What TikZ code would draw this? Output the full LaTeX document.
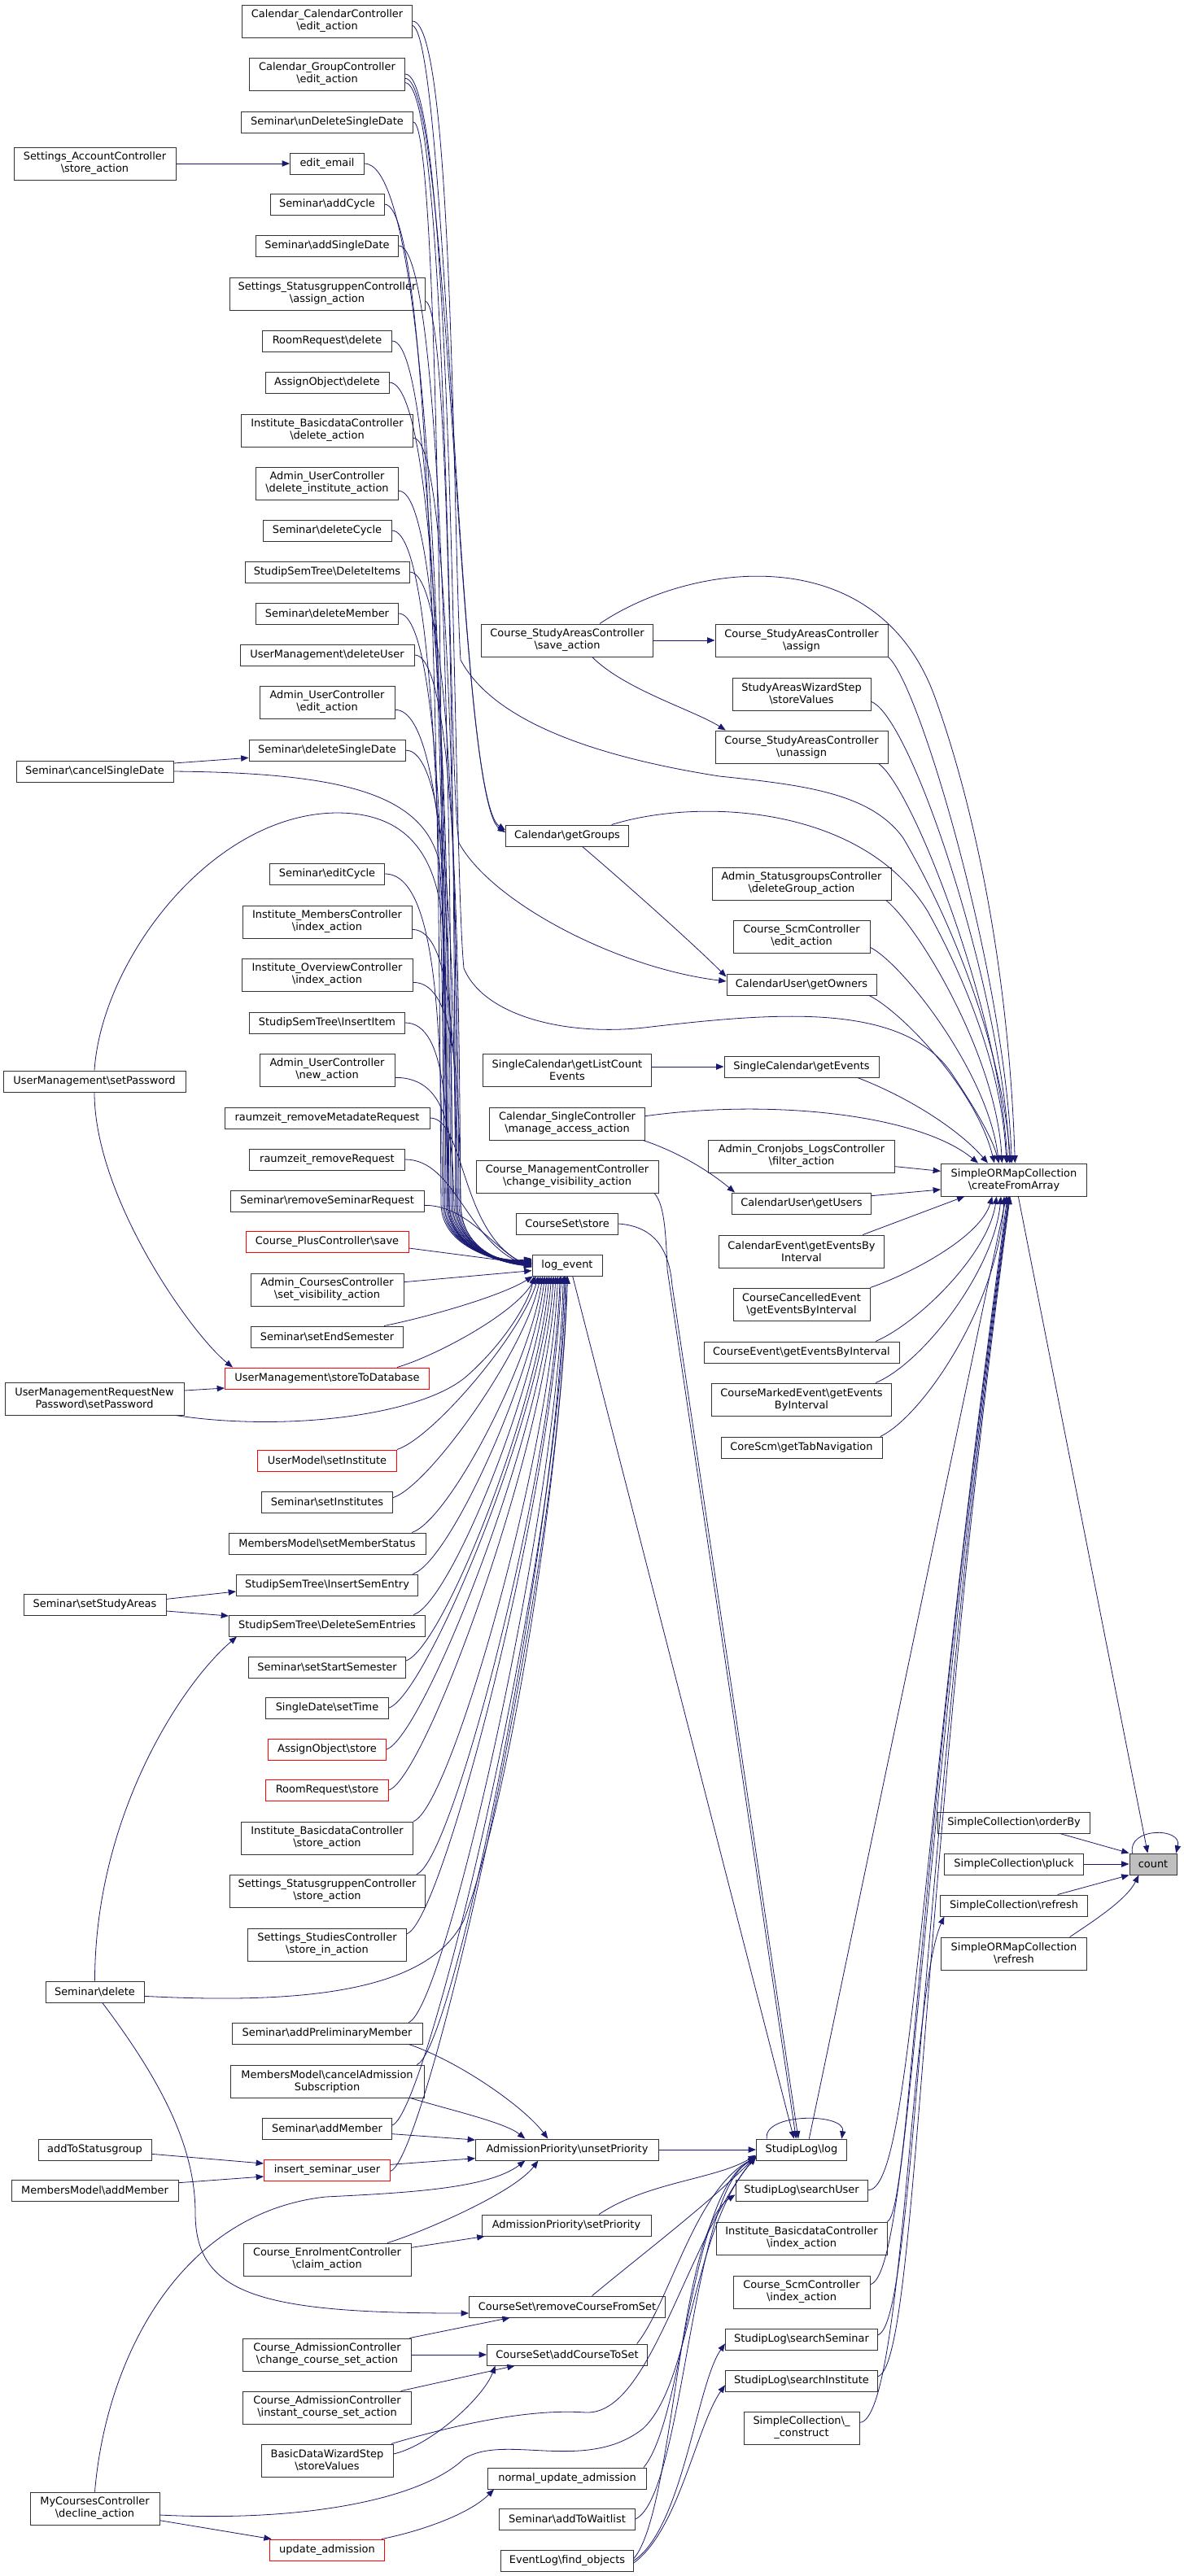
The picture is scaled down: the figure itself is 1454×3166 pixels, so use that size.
\documentclass[tikz,border=0pt]{standalone}
\usepackage{fontspec}
\setmainfont{DejaVu Sans}
\usetikzlibrary{arrows.meta}
\definecolor{mblue}{HTML}{191970}
\definecolor{bord}{HTML}{333333}
\definecolor{cgray}{HTML}{BFBFBF}
\newcommand\bs{\textbackslash}
\newcommand\nodefont{\fontsize{9.7pt}{11.25pt}\selectfont}
\newcommand\bx[6][bx]{\node[#1,minimum width={#5*0.75pt}] (#2) at (#3,#4) {#6};}
% channel edge into log_event: #1 start, #2 channel x, #3 start y, #4 lower control y, #5 end yshift
\newcommand\chan[5]{\draw[ed] (#1) .. controls (#2,#3) and (#2,#4) .. ({#2+2},1480) .. controls ({#2+3},1535) and (615,1552) .. ([yshift=#5]lev.west);}
\tikzset{
  bx/.style={draw=bord, line width=0.75pt, fill=white, font=\nodefont, inner xsep=3pt, inner ysep=1pt, minimum height=19.5pt, align=center},
  bx2/.style={bx, minimum height=30pt},
  bxr/.style={bx, draw=red},
  cnt/.style={bx, fill=cgray},
  ed/.style={draw=mblue, line width=0.6pt, -{Triangle[length=7pt,width=5.5pt]}},
}
\begin{document}
\begin{tikzpicture}[x=0.75pt,y=-0.75pt]
\useasboundingbox (0,0) rectangle (1454,3166);
% ---------- left column
\bx[bx2]{L1}{116.5}{201}{199}{Settings\_AccountController\\\bs store\_action}
\bx{L2}{116.5}{948}{193}{Seminar\bs cancelSingleDate}
\bx{L3}{116}{1329}{224}{UserManagement\bs setPassword}
\bx[bx2]{L4}{116}{1719}{220}{UserManagementRequestNew\\Password\bs setPassword}
\bx{L5}{116.5}{1972}{175}{Seminar\bs setStudyAreas}
\bx{L6}{116.5}{2448}{121}{Seminar\bs delete}
\bx{L7}{116.5}{2642}{139}{addToStatusgroup}
\bx{L8}{116.5}{2692}{205}{MembersModel\bs addMember}
\bx[bx2]{L9}{116.5}{3083}{159}{MyCoursesController\\\bs decline\_action}
% ---------- column 2
\bx[bx2]{c1}{402}{26}{209}{Calendar\_CalendarController\\\bs edit\_action}
\bx[bx2]{c2}{402}{91}{191}{Calendar\_GroupController\\\bs edit\_action}
\bx{c3}{402}{150}{211}{Seminar\bs unDeleteSingleDate}
\bx{c4}{402}{201}{91}{edit\_email}
\bx{c5}{402}{251}{140}{Seminar\bs addCycle}
\bx{c6}{402}{302}{175}{Seminar\bs addSingleDate}
\bx[bx2]{c7}{402}{361}{240}{Settings\_StatusgruppenController\\\bs assign\_action}
\bx{c8}{402}{419}{159}{RoomRequest\bs delete}
\bx{c9}{402}{470}{152}{AssignObject\bs delete}
\bx[bx2]{c10}{402}{529}{211}{Institute\_BasicdataController\\\bs delete\_action}
\bx[bx2]{c11}{402}{594}{175}{Admin\_UserController\\\bs delete\_institute\_action}
\bx{c12}{402}{652}{158}{Seminar\bs deleteCycle}
\bx{c13}{402}{703}{202}{StudipSemTree\bs DeleteItems}
\bx{c14}{402}{754}{175}{Seminar\bs deleteMember}
\bx{c15}{402}{805}{214}{UserManagement\bs deleteUser}
\bx[bx2]{c16}{402}{863}{166}{Admin\_UserController\\\bs edit\_action}
\bx{c17}{402}{922}{192}{Seminar\bs deleteSingleDate}
\bx{c18}{402}{1074}{141}{Seminar\bs editCycle}
\bx[bx2]{c19}{402}{1133}{208}{Institute\_MembersController\\\bs index\_action}
\bx[bx2]{c20}{402}{1198}{210}{Institute\_OverviewController\\\bs index\_action}
\bx{c21}{402}{1257}{191}{StudipSemTree\bs InsertItem}
\bx[bx2]{c22}{402}{1315}{166}{Admin\_UserController\\\bs new\_action}
\bx{c23}{402}{1374}{252}{raumzeit\_removeMetadateRequest}
\bx{c24}{402}{1425}{191}{raumzeit\_removeRequest}
\bx{c25}{402}{1476}{238}{Seminar\bs removeSeminarRequest}
\bx[bxr]{c26}{402}{1526}{200}{Course\_PlusController\bs save}
\bx[bx2]{c27}{402}{1585}{188}{Admin\_CoursesController\\\bs set\_visibility\_action}
\bx{c28}{402}{1643}{187}{Seminar\bs setEndSemester}
\bx[bxr]{c29}{402}{1694}{251}{UserManagement\bs storeToDatabase}
\bx[bxr]{c30}{402}{1795}{171}{UserModel\bs setInstitute}
\bx{c31}{402}{1846}{161}{Seminar\bs setInstitutes}
\bx{c32}{402}{1897}{242}{MembersModel\bs setMemberStatus}
\bx{c33}{402}{1948}{223}{StudipSemTree\bs InsertSemEntry}
\bx{c34}{402}{1998}{241}{StudipSemTree\bs DeleteSemEntries}
\bx{c35}{402}{2049}{193}{Seminar\bs setStartSemester}
\bx{c36}{402}{2099}{151}{SingleDate\bs setTime}
\bx[bxr]{c37}{402}{2150}{145}{AssignObject\bs store}
\bx[bxr]{c38}{402}{2200}{151}{RoomRequest\bs store}
\bx[bx2]{c39}{402}{2259}{211}{Institute\_BasicdataController\\\bs store\_action}
\bx[bx2]{c40}{402}{2324}{240}{Settings\_StatusgruppenController\\\bs store\_action}
\bx[bx2]{c41}{402}{2390}{195}{Settings\_StudiesController\\\bs store\_in\_action}
\bx{c42}{402}{2499}{234}{Seminar\bs addPreliminaryMember}
\bx[bx2]{c43}{402}{2558}{238}{MembersModel\bs cancelAdmission\\Subscription}
\bx{c44}{402}{2616}{159}{Seminar\bs addMember}
\bx[bxr]{c45}{402}{2667}{155}{insert\_seminar\_user}
\bx[bx2]{c46}{402}{2777}{206}{Course\_EnrolmentController\\\bs claim\_action}
\bx[bx2]{c47}{402}{2894}{207}{Course\_AdmissionController\\\bs change\_course\_set\_action}
\bx[bx2]{c48}{402}{2959}{207}{Course\_AdmissionController\\\bs instant\_course\_set\_action}
\bx[bx2]{c49}{402}{3024}{162}{BasicDataWizardStep\\\bs storeValues}
\bx[bxr]{c50}{402}{3134}{141}{update\_admission}
% ---------- column 3
\bx[bx2]{d1}{697}{787}{211}{Course\_StudyAreasController\\\bs save\_action}
\bx{d2}{697}{1027}{151}{Calendar\bs getGroups}
\bx[bx2]{d3}{697}{1315}{207}{SingleCalendar\bs getListCount\\Events}
\bx[bx2]{d4}{697}{1381}{191}{Calendar\_SingleController\\\bs manage\_access\_action}
\bx[bx2]{d5}{697}{1446}{224}{Course\_ManagementController\\\bs change\_visibility\_action}
\bx{d6}{697}{1504}{125}{CourseSet\bs store}
\bx{lev}{697}{1555}{86}{log\_event}
\bx{d8}{697}{2642}{225}{AdmissionPriority\bs unsetPriority}
\bx{d9}{696}{2735}{208}{AdmissionPriority\bs setPriority}
\bx{d10}{697}{2835}{241}{CourseSet\bs removeCourseFromSet}
\bx{d11}{697}{2894}{197}{CourseSet\bs addCourseToSet}
\bx{d12}{697}{3046}{195}{normal\_update\_admission}
\bx{d13}{697}{3096}{167}{Seminar\bs addToWaitlist}
\bx{d14}{697}{3147}{163}{EventLog\bs find\_objects}
% ---------- column 4
\bx[bx2]{e1}{985}{787}{212}{Course\_StudyAreasController\\\bs assign}
\bx[bx2]{e2}{985}{853}{170}{StudyAreasWizardStep\\\bs storeValues}
\bx[bx2]{e3}{985}{918}{212}{Course\_StudyAreasController\\\bs unassign}
\bx[bx2]{e4}{985}{1086}{220}{Admin\_StatusgroupsController\\\bs deleteGroup\_action}
\bx[bx2]{e5}{985}{1151}{168}{Course\_ScmController\\\bs edit\_action}
\bx{e6}{985}{1210}{184}{CalendarUser\bs getOwners}
\bx{e7}{985}{1311}{190}{SingleCalendar\bs getEvents}
\bx[bx2]{e8}{985}{1421}{229}{Admin\_Cronjobs\_LogsController\\\bs filter\_action}
\bx{e9}{985}{1479}{171}{CalendarUser\bs getUsers}
\bx[bx2]{e10}{985}{1538}{203}{CalendarEvent\bs getEventsBy\\Interval}
\bx[bx2]{e11}{985}{1603}{168}{CourseCancelledEvent\\\bs getEventsByInterval}
\bx{e12}{985}{1662}{240}{CourseEvent\bs getEventsByInterval}
\bx[bx2]{e13}{985}{1720}{221}{CourseMarkedEvent\bs getEvents\\ByInterval}
\bx{e14}{985}{1779}{198}{CoreScm\bs getTabNavigation}
\bx{e15}{985}{2642}{111}{StudipLog\bs log}
\bx{e16}{985}{2692}{162}{StudipLog\bs searchUser}
\bx[bx2]{e17}{985}{2751}{210}{Institute\_BasicdataController\\\bs index\_action}
\bx[bx2]{e18}{985}{2817}{168}{Course\_ScmController\\\bs index\_action}
\bx{e19}{985}{2875}{187}{StudipLog\bs searchSeminar}
\bx{e20}{985}{2926}{187}{StudipLog\bs searchInstitute}
\bx[bx2]{e21}{985}{2984}{142}{SimpleCollection\bs\_\\\_construct}
% ---------- column 5
\bx[bx2]{f1}{1246}{1450}{179}{SimpleORMapCollection\\\bs createFromArray}
\bx{f2}{1246}{2240}{187}{SimpleCollection\bs orderBy}
\bx{f3}{1246}{2291}{171}{SimpleCollection\bs pluck}
\bx{f4}{1246}{2342}{181}{SimpleCollection\bs refresh}
\bx[bx2]{f5}{1246}{2401}{179}{SimpleORMapCollection\\\bs refresh}
\bx[cnt]{cnt}{1417}{2291}{58}{count}

% ================= edges =================
% left column
\draw[ed] (L1.east) -- (c4.west);
\draw[ed] ([yshift=7.5pt]L2.east) -- ([yshift=-7pt]c17.west);
\draw[ed] (L2.east) .. controls (420,950) and (520,975) .. (540,1060) .. controls (548,1150) and (548,1400) .. (550,1480) .. controls (551,1535) and (615,1552) .. ([yshift=2pt]lev.west);
\draw[ed] (L3.south) .. controls +(0,130) and +(-50,-40) .. ([xshift=7.5pt]c29.north west);
\draw[ed] (L3.north) .. controls (125,1180) and (260,1000) .. (414,999) .. controls (500,999) and (540,1050) .. (545,1150) .. controls (548,1300) and (550,1420) .. (552,1480) .. controls (553,1535) and (615,1552) .. ([yshift=-1pt]lev.west);
\draw[ed] ([yshift=7.5pt]L4.east) -- ([yshift=-9pt]c29.west);
\draw[ed] ([xshift=-8pt]L4.south east) .. controls (350,1760) and (520,1740) .. (575,1690) .. controls (620,1650) and (650,1600) .. ([xshift=2pt]lev.south west);
\draw[ed] ([yshift=5pt]L5.east) -- ([yshift=-6pt]c33.west);
\draw[ed] ([yshift=-6pt]L5.east) -- ([yshift=9pt]c34.west);
\draw[ed] (L6.north) .. controls +(0,-200) and +(-70,60) .. ([xshift=7.5pt]c34.south west);
\draw[ed] ([yshift=-4pt]L6.east) .. controls (400,2465) and (530,2440) .. (570,2360) .. controls (630,2200) and (690,1800) .. ([xshift=33pt]lev.south west);
\draw[ed] ([xshift=7pt]L6.south) .. controls (200,2560) and (240,2640) .. (240,2720) .. controls (240,2820) and (320,2843) .. ([yshift=-6pt]d10.west);
\draw[ed] ([yshift=-4pt]L7.east) -- ([yshift=6pt]c45.west);
\draw[ed] ([yshift=7pt]L8.east) -- ([yshift=-6pt]c45.west);
\draw[ed] ([yshift=-11pt]L9.east) -- ([xshift=2pt]c50.north west);
\draw[ed] (L9.north) .. controls (130,2900) and (220,2720) .. (400,2700) .. controls (500,2695) and (600,2690) .. ([xshift=46pt]d8.south west);
\draw[ed] ([yshift=-6pt]L9.east) .. controls (380,3100) and (520,3070) .. (570,3022) .. controls (620,2990) and (720,3040) .. (790,2985) .. controls (850,2930) and (850,2740) .. ([yshift=-7pt]e15.west);

% column 2 -> log_event (upper, through the channel)
\chan{c3.east}{544}{150}{1250}{6pt}
\chan{c4.east}{548}{201}{1250}{5.5pt}
\chan{c5.east}{540}{251}{1250}{5pt}
\chan{c6.east}{554}{302}{1250}{4.5pt}
\chan{[yshift=-7pt]c7.east}{558}{370}{1250}{4pt}
\chan{c8.east}{546}{419}{1250}{4pt}
\chan{c9.east}{550}{470}{1250}{3.5pt}
\chan{[yshift=-7pt]c10.east}{560}{538}{1250}{3pt}
\chan{[yshift=-7pt]c11.east}{552}{603}{1250}{3pt}
\chan{c12.east}{544}{652}{1250}{2.5pt}
\chan{c13.east}{562}{703}{1250}{2pt}
\chan{c14.east}{548}{754}{1250}{2pt}
\chan{c15.east}{564}{805}{1250}{1.5pt}
\chan{[yshift=-7pt]c16.east}{554}{872}{1250}{1pt}
\chan{c17.east}{558}{922}{1250}{1pt}
\chan{c18.east}{542}{1074}{1300}{0.5pt}
\chan{[yshift=-7pt]c19.east}{560}{1142}{1320}{0pt}
\chan{[yshift=-7pt]c20.east}{564}{1207}{1350}{0pt}
\chan{c21.east}{550}{1257}{1380}{-0.5pt}
\chan{[yshift=-7pt]c22.east}{556}{1324}{1410}{-1pt}
\draw[ed] (c23.east) .. controls (572,1374) and (565,1520) .. ([yshift=-1pt]lev.west);
\draw[ed] (c24.east) .. controls (560,1425) and (575,1530) .. ([yshift=-1.5pt]lev.west);
\draw[ed] ([yshift=-4pt]c25.east) .. controls (575,1481) and +(-45,-20) .. ([yshift=-2pt]lev.west);
\draw[ed] ([yshift=-6pt]c26.east) -- ([yshift=1pt]lev.west);
\draw[ed] ([yshift=7pt]c27.east) -- ([yshift=-5pt]lev.west);
% column 2 -> log_event (lower)
\draw[ed] ([xshift=-18pt]c28.north east) .. controls +(50,-10) and +(-40,25) .. ([xshift=1pt]lev.south west);
\draw[ed] ([xshift=-30pt]c29.north east) .. controls +(50,-15) and +(-25,45) .. ([xshift=4pt]lev.south west);
\draw[ed] (c30.north east) .. controls +(45,-15) and +(-20,70) .. ([xshift=6pt]lev.south west);
\draw[ed] ([yshift=4pt]c31.east) .. controls +(45,-15) and +(-18,90) .. ([xshift=8pt]lev.south west);
\draw[ed] ([xshift=-13pt]c32.north east) .. controls +(45,-15) and +(-16,110) .. ([xshift=10pt]lev.south west);
\draw[ed] ([xshift=-5pt]c33.north east) .. controls +(45,-15) and +(-15,125) .. ([xshift=12pt]lev.south west);
\draw[ed] ([xshift=-11pt]c34.north east) .. controls +(45,-15) and +(-14,140) .. ([xshift=14pt]lev.south west);
\draw[ed] ([yshift=6pt]c35.east) .. controls +(45,-15) and +(-13,160) .. ([xshift=16pt]lev.south west);
\draw[ed] (c36.east) .. controls +(45,-15) and +(-12,175) .. ([xshift=18pt]lev.south west);
\draw[ed] (c37.east) .. controls +(45,-15) and +(-11,190) .. ([xshift=20pt]lev.south west);
\draw[ed] (c38.east) .. controls +(45,-15) and +(-10,205) .. ([xshift=22pt]lev.south west);
\draw[ed] (c39.north east) .. controls +(45,-15) and +(-9,220) .. ([xshift=24pt]lev.south west);
\draw[ed] ([xshift=-8pt]c40.north east) .. controls +(45,-15) and +(-8,235) .. ([xshift=26pt]lev.south west);
\draw[ed] ([yshift=10pt]c41.east) .. controls +(45,-15) and +(-7,250) .. ([xshift=27pt]lev.south west);
\draw[ed] ([xshift=-13pt]c42.north east) .. controls +(45,-15) and +(-6,280) .. ([xshift=29pt]lev.south west);
\draw[ed] ([xshift=-7pt]c43.north east) .. controls +(45,-15) and +(-5,300) .. ([xshift=30pt]lev.south west);
\draw[ed] ([yshift=3pt]c44.east) .. controls +(45,-15) and +(-4,320) .. ([xshift=31pt]lev.south west);
\draw[ed] ([yshift=-1pt]c45.east) .. controls +(45,-15) and +(-3,340) .. ([xshift=32pt]lev.south west);
% calendar controllers
\draw[ed] ([yshift=-4pt]c1.east) .. controls (550,47) and +(-60,-40) .. ([yshift=3pt]d2.west);
\draw[ed] ([yshift=-4pt]c2.east) .. controls (554,96) and +(-60,-40) .. ([yshift=5pt]d2.west);
\draw[ed] (c1.east) .. controls (558,26) and (556,650) .. (566,811) .. controls (600,875) and (700,925) .. (884,954) .. controls (990,965) and (1070,975) .. (1110,1030) .. controls (1180,1150) and (1232,1300) .. ([xshift=-3pt]f1.north);
\draw[ed] (c2.east) .. controls (560,91) and (556,1050) .. (570,1190) .. controls (595,1250) and (700,1275) .. (800,1262) .. controls (950,1245) and (1110,1230) .. (1170,1320) .. controls (1200,1365) and (1220,1400) .. ([xshift=-14pt]f1.north);
\draw[ed] ([yshift=-8pt]c2.east) .. controls (552,102) and (550,950) .. (564,1036) .. controls (605,1110) and (760,1190) .. ([yshift=3pt]e6.west);
% column 2 lower -> column 3
\draw[ed] ([xshift=-13pt]c42.south east) .. controls +(60,20) and +(-30,-40) .. ([xshift=67pt]d8.north west);
\draw[ed] ([xshift=-13pt]c43.south east) .. controls +(50,15) and +(-25,-20) .. ([xshift=46pt]d8.north west);
\draw[ed] ([yshift=-5pt]c44.east) -- ([yshift=9pt]d8.west);
\draw[ed] ([yshift=5pt]c45.east) -- ([yshift=-8pt]d8.west);
\draw[ed] ([yshift=11pt]c46.east) -- ([xshift=3pt]d9.south west);
\draw[ed] ([xshift=-22pt]c46.north east) .. controls +(40,-12) and +(-30,40) .. ([xshift=58pt]d8.south west);
\draw[ed] ([xshift=-2pt]c47.north east) -- ([xshift=38pt]d10.south west);
\draw[ed] (c47.east) -- (d11.west);
\draw[ed] ([xshift=-10pt]c48.north east) -- ([xshift=26pt]d11.south west);
\draw[ed] ([yshift=6pt]c49.east) .. controls +(45,-10) and +(-15,40) .. ([xshift=8pt]d11.south west);
\draw[ed] ([xshift=-2pt]c49.north east) .. controls (560,2980) and (650,2960) .. (720,2965) .. controls (800,2968) and (840,2760) .. ([yshift=-6pt]e15.west);
\draw[ed] ([xshift=-3pt]c50.north east) .. controls +(50,-10) and +(-30,30) .. ([xshift=6pt]d12.south west);
% column 3 -> column 4/5
\draw[ed] (d1.east) -- (e1.west);
\draw[ed] ([xshift=23pt]d1.south) .. controls +(40,40) and +(-40,-25) .. ([xshift=10pt]e3.north west);
\draw[ed] ([xshift=30pt]d1.north) .. controls (850,690) and (1080,660) .. (1150,860) .. controls (1200,1000) and (1240,1200) .. ([xshift=1pt]f1.north);
\draw[ed] ([xshift=-16pt]d2.north east) .. controls (860,980) and (1060,990) .. (1140,1120) .. controls (1190,1210) and (1232,1320) .. ([xshift=-7pt]f1.north);
\draw[ed] ([xshift=14pt]d2.south) .. controls +(70,60) and +(-35,-35) .. ([yshift=-3pt]e6.north west);
\draw[ed] ([yshift=3pt]d3.east) -- (e7.west);
\draw[ed] ([yshift=7pt]d4.east) .. controls (950,1350) and (1130,1370) .. ([xshift=-33pt]f1.north);
\draw[ed] ([xshift=-2pt]d4.south east) .. controls +(45,15) and +(-30,-25) .. ([xshift=3pt]e9.north west);
\draw[ed] ([xshift=-4pt]d5.south east) .. controls +(10,12) and (818,1500) .. (820,1560) -- ([xshift=-5pt]e15.north);
\draw[ed] (d6.east) .. controls (800,1507) and (822,1530) .. (826,1580) -- ([xshift=-3pt]e15.north);
\draw[ed] ([xshift=5pt]lev.south) -- ([xshift=-7pt]e15.north);
\draw[ed] (d8.east) -- (e15.west);
\draw[ed] ([xshift=30pt]d9.north) .. controls +(60,-40) and +(-50,30) .. ([yshift=-5pt]e15.west);
\draw[ed] ([xshift=23pt]d10.north) .. controls +(60,-50) and +(-60,60) .. ([yshift=-6pt]e15.west);
\draw[ed] ([xshift=-10pt]d11.north east) .. controls +(40,-50) and +(-75,40) .. ([yshift=-7pt]e15.west);
\draw[ed] ([xshift=-3pt]d12.north east) .. controls +(50,-60) and +(-80,40) .. ([yshift=-8pt]e15.west);
\draw[ed] (d13.east) .. controls +(60,-30) and +(-80,40) .. ([yshift=-8pt]e15.west);
\draw[ed] ([yshift=2pt]d14.east) .. controls +(50,-60) and +(-70,45) .. ([yshift=-4pt]e16.west);
\draw[ed] (d14.east) .. controls +(60,-40) and +(-35,50) .. ([yshift=-4pt]e19.west);
\draw[ed] ([yshift=-2pt]d14.east) .. controls +(55,-40) and +(-35,50) .. ([yshift=-4pt]e20.west);
% column 4 -> createFromArray
\draw[ed] (e1.south east) .. controls (1130,840) and (1235,1200) .. ([xshift=-2pt]f1.north);
\draw[ed] ([yshift=-7pt]e2.east) .. controls (1120,880) and (1232,1220) .. ([xshift=-4pt]f1.north);
\draw[ed] ([xshift=-9pt]e3.south east) .. controls (1120,965) and (1228,1240) .. ([xshift=-6pt]f1.north);
\draw[ed] ([xshift=-5pt]e4.south east) .. controls (1130,1140) and (1225,1300) .. ([xshift=-11pt]f1.north);
\draw[ed] ([yshift=-10pt]e5.east) .. controls (1110,1185) and (1215,1320) .. ([xshift=-14pt]f1.north);
\draw[ed] ([xshift=-7pt]e6.south east) .. controls (1110,1245) and (1200,1340) .. ([xshift=-18pt]f1.north);
\draw[ed] ([xshift=-20pt]e7.south east) .. controls (1120,1350) and (1180,1390) .. ([xshift=-24pt]f1.north);
\draw[ed] ([yshift=-9.5pt]e8.east) -- ([yshift=8pt]f1.west);
\draw[ed] ([yshift=7pt]e9.east) -- ([yshift=-9pt]f1.west);
\draw[ed] ([xshift=-20pt]e10.north east) -- ([xshift=22pt]f1.south west);
\draw[ed] (e11.north east) .. controls (1120,1565) and (1205,1520) .. ([xshift=-20pt]f1.south);
\draw[ed] ([xshift=-22pt]e12.north east) .. controls (1130,1625) and (1215,1540) .. ([xshift=-16pt]f1.south);
\draw[ed] ([xshift=-15pt]e13.north east) .. controls (1135,1675) and (1222,1560) .. ([xshift=-12pt]f1.south);
\draw[ed] ([xshift=-2pt]e14.north east) .. controls (1135,1740) and (1228,1600) .. ([xshift=-9pt]f1.south);
\draw[ed] ([xshift=7pt]e15.north) -- ([xshift=-7pt]f1.south);
\draw[ed] ([xshift=-32pt]e15.north) .. controls +(-5,-32) and +(5,-32) .. ([xshift=-5pt]e15.north east);
\draw[ed] (e16.east) .. controls (1120,2690) and (1125,2300) .. ([xshift=-6pt]f1.south);
\draw[ed] (e17.north east) .. controls (1118,2715) and (1124,2300) .. ([xshift=-5pt]f1.south);
\draw[ed] ([yshift=7pt]e18.east) .. controls (1118,2795) and (1126,2300) .. ([xshift=-4.5pt]f1.south);
\draw[ed] ([yshift=4pt]e19.east) .. controls (1124,2855) and (1128,2300) .. ([xshift=-4pt]f1.south);
\draw[ed] ([yshift=4pt]e20.east) .. controls (1128,2905) and (1130,2300) .. ([xshift=-3.5pt]f1.south);
\draw[ed] ([yshift=5pt]e21.east) .. controls (1110,2975) and (1118,2450) .. ([xshift=4pt]f4.south west);
% column 5 -> count
\draw[ed] ([xshift=4pt]f1.south) -- ([xshift=-5pt]cnt.north);
\draw[ed] ([xshift=-28pt]f2.south east) -- (cnt.north west);
\draw[ed] (f3.east) -- (cnt.west);
\draw[ed] ([xshift=-28pt]f4.north east) -- (cnt.south west);
\draw[ed] ([xshift=-16pt]f5.north east) .. controls +(30,-20) and +(-15,30) .. ([xshift=9pt]cnt.south west);
\draw[ed] ([xshift=3pt]cnt.north west) .. controls +(-6,-32) and +(8,-32) .. ([xshift=-1pt]cnt.north east);
\end{tikzpicture}
\end{document}
